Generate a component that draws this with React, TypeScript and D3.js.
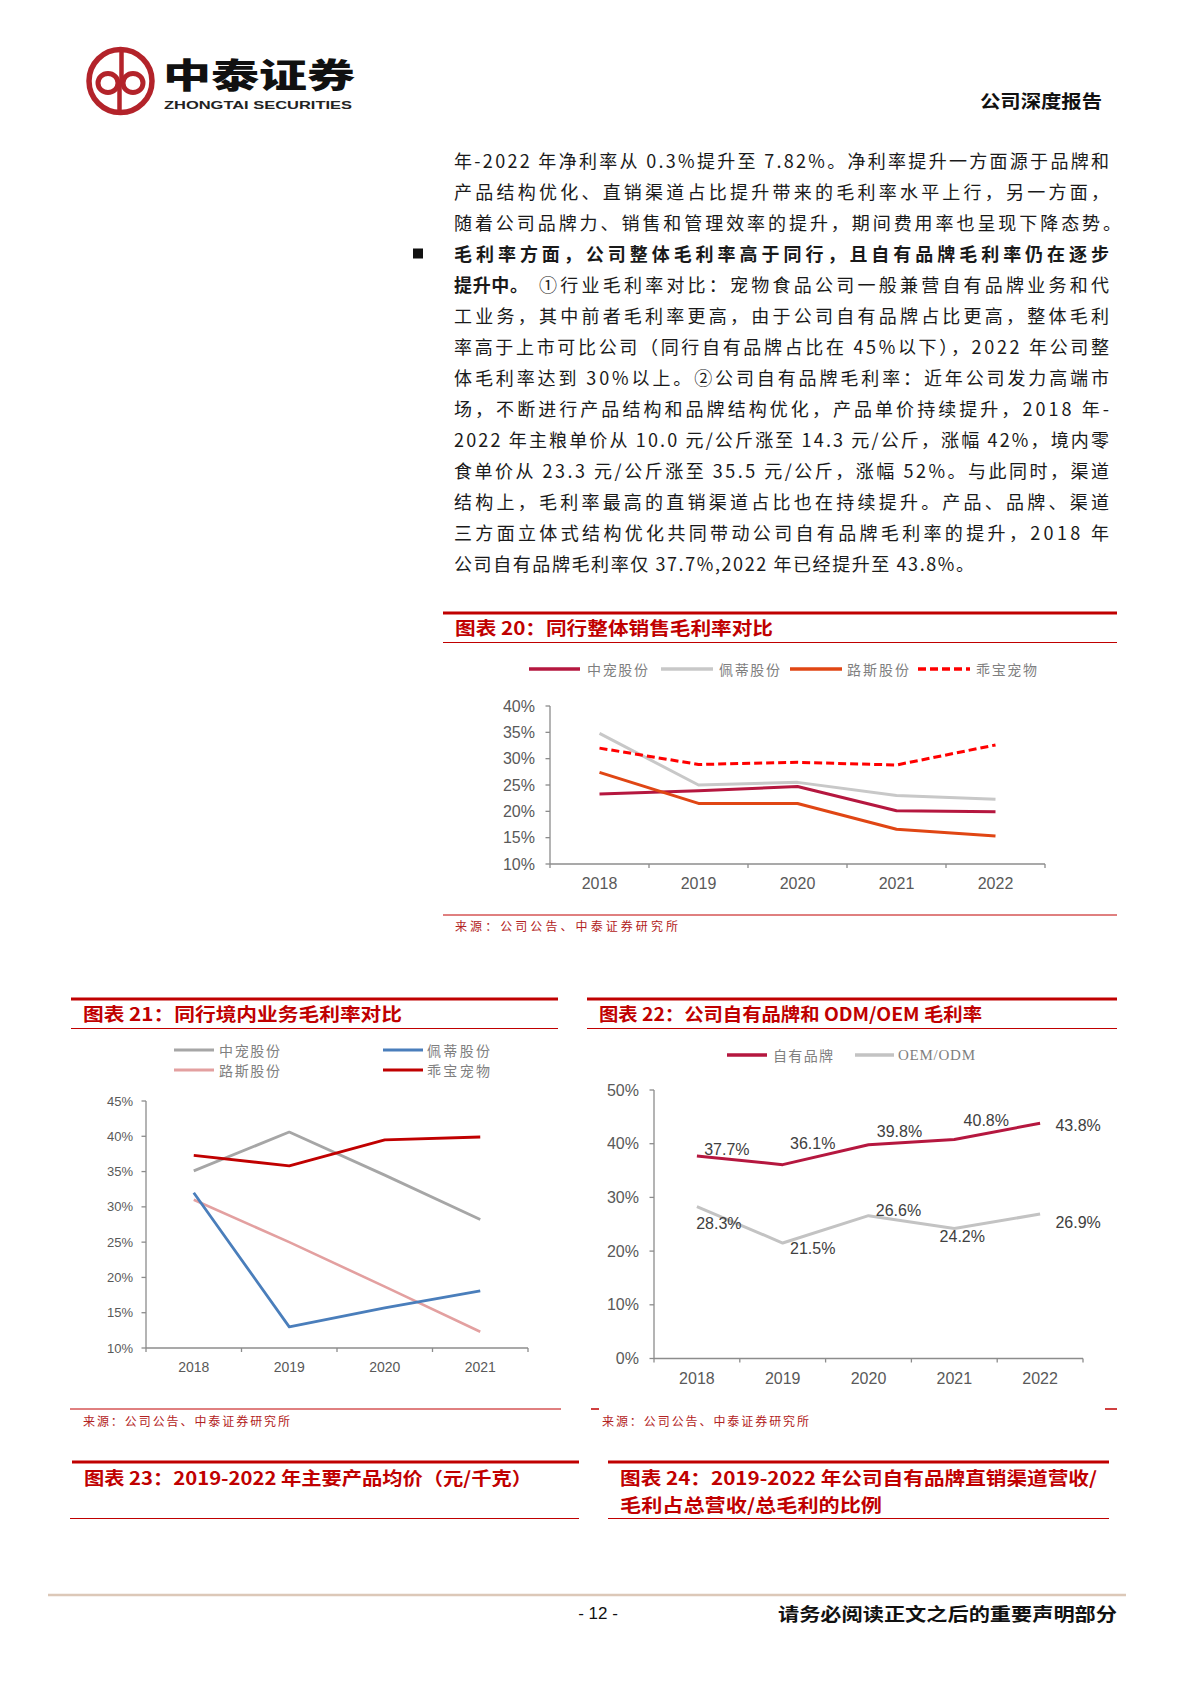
import React from 'react';
import * as d3 from 'd3';

// ---------- data ----------
const years5 = ['2018', '2019', '2020', '2021', '2022'];
const years4 = ['2018', '2019', '2020', '2021'];

// 图表20 同行整体销售毛利率 (%)
const c20Names = ['中宠股份', '佩蒂股份', '路斯股份', '乖宝宠物'];
const c20Zhongchong = [23.3, 23.9, 24.7, 20.1, 19.9];
const c20Peidi = [34.8, 25.0, 25.5, 23.0, 22.3];
const c20Lusi = [27.4, 21.5, 21.5, 16.6, 15.3];
const c20Guaibao = [32.0, 28.9, 29.3, 28.8, 32.6];
const c20Ticks = [10, 15, 20, 25, 30, 35, 40];

// 图表21 同行境内业务毛利率 (%)
const c21Names = ['中宠股份', '佩蒂股份', '路斯股份', '乖宝宠物'];
const c21Zhongchong = [35.1, 40.6, 34.5, 28.2];
const c21Peidi = [32.0, 13.0, 15.7, 18.1];
const c21Lusi = [31.0, 25.0, 18.7, 12.3];
const c21Guaibao = [37.3, 35.8, 39.5, 39.9];
const c21Ticks = [10, 15, 20, 25, 30, 35, 40, 45];

// 图表22 自有品牌 / OEM/ODM 毛利率 (%)
const c22Names = ['自有品牌', 'OEM/ODM'];
const c22Own = [37.7, 36.1, 39.8, 40.8, 43.8];
const c22Oem = [28.3, 21.5, 26.6, 24.2, 26.9];
const c22Ticks = [0, 10, 20, 30, 40, 50];

// layout nudges for chart-22 data labels (px)
const ownLabelDx = [30, 30, 31, 32, 38];
const ownLabelDy = [-7, -21, -13, -19, 2];
const oemLabelDx = [22, 30, 30, 8, 38];
const oemLabelDy = [17, 5, -5, 8, 8];

const bodyLines = [
  '年-2022 年净利率从 0.3%提升至 7.82%。净利率提升一方面源于品牌和',
  '产品结构优化、直销渠道占比提升带来的毛利率水平上行，另一方面，',
  '随着公司品牌力、销售和管理效率的提升，期间费用率也呈现下降态势。',
];
const bulletBold1 = '毛利率方面，公司整体毛利率高于同行，且自有品牌毛利率仍在逐步';
const bulletBold2 = '提升中。';
const bulletRest2 = '①行业毛利率对比：宠物食品公司一般兼营自有品牌业务和代';
const bulletLines = [
  '工业务，其中前者毛利率更高，由于公司自有品牌占比更高，整体毛利',
  '率高于上市可比公司（同行自有品牌占比在 45%以下），2022 年公司整',
  '体毛利率达到 30%以上。②公司自有品牌毛利率：近年公司发力高端市',
  '场，不断进行产品结构和品牌结构优化，产品单价持续提升，2018 年-',
  '2022 年主粮单价从 10.0 元/公斤涨至 14.3 元/公斤，涨幅 42%，境内零',
  '食单价从 23.3 元/公斤涨至 35.5 元/公斤，涨幅 52%。与此同时，渠道',
  '结构上，毛利率最高的直销渠道占比也在持续提升。产品、品牌、渠道',
  '三方面立体式结构优化共同带动公司自有品牌毛利率的提升，2018 年',
];
const bulletLast = '公司自有品牌毛利率仅 37.7%,2022 年已经提升至 43.8%。';

// ---------- styles ----------
const CJK = '"Noto Sans CJK SC", "Noto Sans", sans-serif';
const NUM = '"Liberation Sans", Arial, sans-serif';
const NARROW = '"Liberation Sans Narrow", "Liberation Sans", Arial, sans-serif';
const RED = '#C00000';
const AXIS = '#8C8C8C';
const TICKTXT = '#595959';

type Series = { values: number[]; color: string; width: number; dash?: string };

function LineChart(props: {
  cats: string[];
  ticks: number[];
  domain: [number, number];
  left: number;
  right: number;
  top: number;
  bottom: number;
  series: Series[];
  tickRight: number;
  tickFont: string;
  tickSize: number;
  xLabelY: number;
  xFont: string;
  xSize: number;
  children?: (x: (i: number) => number, y: (v: number) => number) => React.ReactNode;
}) {
  const { cats, ticks, domain, left, right, top, bottom, series } = props;
  const xb = d3.scaleBand<string>().domain(cats).range([left, right]).padding(0);
  const y = d3.scaleLinear().domain(domain).range([bottom, top]);
  const cx = (i: number) => (xb(cats[i]) as number) + xb.bandwidth() / 2;
  const line = d3
    .line<number>()
    .x((_, i) => cx(i))
    .y((v) => y(v));
  const bounds = [left, ...cats.map((c) => (xb(c) as number) + xb.bandwidth())];
  return (
    <g>
      <line x1={left} x2={left} y1={y(domain[1])} y2={bottom} stroke={AXIS} strokeWidth={1.3} />
      {ticks.map((t) => (
        <g key={t}>
          <line x1={left - 4.5} x2={left} y1={y(t)} y2={y(t)} stroke={AXIS} strokeWidth={1.3} />
          <text
            x={props.tickRight}
            y={y(t)}
            textAnchor="end"
            dominantBaseline="central"
            fontFamily={props.tickFont}
            fontSize={props.tickSize}
            fill={TICKTXT}
          >
            {t}%
          </text>
        </g>
      ))}
      <line x1={left} x2={right} y1={bottom} y2={bottom} stroke={AXIS} strokeWidth={1.3} />
      {bounds.map((b, i) => (
        <line key={i} x1={b} x2={b} y1={bottom} y2={bottom + 4} stroke={AXIS} strokeWidth={1.3} />
      ))}
      {cats.map((c, i) => (
        <text
          key={c}
          x={cx(i)}
          y={props.xLabelY}
          textAnchor="middle"
          dominantBaseline="central"
          fontFamily={props.xFont}
          fontSize={props.xSize}
          fill={TICKTXT}
        >
          {c}
        </text>
      ))}
      {series.map((s, i) => (
        <path
          key={i}
          d={line(s.values) || ''}
          fill="none"
          stroke={s.color}
          strokeWidth={s.width}
          strokeDasharray={s.dash}
          strokeLinejoin="round"
        />
      ))}
      {props.children ? props.children(cx, y) : null}
    </g>
  );
}

function LegendItem(p: {
  x1: number; x2: number; y: number; color: string; width: number; dash?: string;
  label: string; tx: number; tw: number; font?: string; size?: number;
}) {
  return (
    <g>
      <line x1={p.x1} x2={p.x2} y1={p.y} y2={p.y} stroke={p.color} strokeWidth={p.width} strokeDasharray={p.dash} />
      <text
        x={p.tx}
        y={p.y}
        dominantBaseline="central"
        fontFamily={p.font || CJK}
        fontSize={p.size || 14}
        fill="#7F7F7F"
        textLength={p.tw}
        lengthAdjust="spacing"
      >
        {p.label}
      </text>
    </g>
  );
}

function Header(p: { x1: number; x2: number; y: number; title: string; tx: number; tw: number; thinX1?: number }) {
  return (
    <g>
      <line x1={p.x1} x2={p.x2} y1={p.y} y2={p.y} stroke={RED} strokeWidth={3} />
      <text
        x={p.tx}
        y={p.y + 14}
        dominantBaseline="central"
        fontFamily={CJK}
        fontWeight={700}
        fontSize={18}
        fill={RED}
        textLength={p.tw}
        lengthAdjust="spacingAndGlyphs"
      >
        {p.title}
      </text>
      <line x1={p.thinX1 ?? p.x1} x2={p.x2} y1={p.y + 29.5} y2={p.y + 29.5} stroke={RED} strokeWidth={1} />
    </g>
  );
}

function Source(p: { x: number; y: number; w: number }) {
  return (
    <text
      x={p.x}
      y={p.y}
      dominantBaseline="central"
      fontFamily={CJK}
      fontSize={12}
      fill="#B22222"
      textLength={p.w}
      lengthAdjust="spacing"
    >
      来源：公司公告、中泰证券研究所
    </text>
  );
}

export default function App() {
  const bodyX = 454;
  const bodyW = 655;
  const lineY = (i: number) => 160 + i * 31;
  const c20Colors = ['#B5173F', '#C8C8C8', '#E04614', '#FF0000'];
  const c21Colors = ['#A6A6A6', '#4A7EBB', '#E3A0A0', '#C00000'];
  const c22Colors = ['#B5173F', '#C3C3C3'];

  return (
    <svg
      width={1190}
      height={1683}
      viewBox="0 0 1190 1683"
      style={{ position: 'absolute', left: 0, top: 0, background: '#fff' }}
    >
      <rect x={0} y={0} width={1190} height={1683} fill="#fff" />

      {/* ---------- page header ---------- */}
      <g>
        <circle cx={120.5} cy={81} r={31.5} fill="none" stroke="#B3232A" strokeWidth={5.5} />
        <ellipse cx={108} cy={83} rx={10} ry={9.5} fill="none" stroke="#B3232A" strokeWidth={5} />
        <ellipse cx={133} cy={83} rx={10} ry={9.5} fill="none" stroke="#B3232A" strokeWidth={5} />
        <line x1={121.5} x2={121.5} y1={50} y2={83} stroke="#B3232A" strokeWidth={4.5} />
        <line x1={119.5} x2={119.5} y1={83} y2={112} stroke="#B3232A" strokeWidth={4.5} />
        <text x={163} y={73} dominantBaseline="central" fontFamily={CJK} fontWeight={900} fontSize={34}
          fill="#111" textLength={192} lengthAdjust="spacingAndGlyphs">中泰证券</text>
        <text x={164} y={104.5} dominantBaseline="central" fontFamily={NUM} fontWeight={700} fontSize={11.5}
          fill="#222" textLength={188} lengthAdjust="spacingAndGlyphs">ZHONGTAI SECURITIES</text>
        <text x={980} y={100} dominantBaseline="central" fontFamily={CJK} fontWeight={700} fontSize={18}
          fill="#111" textLength={122} lengthAdjust="spacingAndGlyphs">公司深度报告</text>
      </g>

      {/* ---------- body text ---------- */}
      <g fontFamily={CJK} fontSize={18} fill="#1a1a1a">
        {bodyLines.map((t, i) => (
          <text key={i} x={bodyX} y={lineY(i)} dominantBaseline="central"
            textLength={i === 2 ? 667 : bodyW} lengthAdjust="spacing">{t}</text>
        ))}
        <rect x={413} y={248.5} width={10} height={10} fill="#111" />
        <text x={bodyX} y={lineY(3)} dominantBaseline="central" fontWeight={700}
          textLength={bodyW} lengthAdjust="spacing">{bulletBold1}</text>
        <text x={bodyX} y={lineY(4)} dominantBaseline="central" fontWeight={700}
          textLength={74} lengthAdjust="spacing">{bulletBold2}</text>
        <text x={539} y={lineY(4)} dominantBaseline="central"
          textLength={bodyX + bodyW - 539} lengthAdjust="spacing">{bulletRest2}</text>
        {bulletLines.map((t, i) => (
          <text key={i} x={bodyX} y={lineY(5 + i)} dominantBaseline="central"
            textLength={bodyW} lengthAdjust="spacing">{t}</text>
        ))}
        <text x={bodyX} y={lineY(13)} dominantBaseline="central"
          textLength={520} lengthAdjust="spacing">{bulletLast}</text>
      </g>

      {/* ---------- chart 20 ---------- */}
      <Header x1={443} x2={1117} y={613} tx={455} tw={318} title="图表 20：同行整体销售毛利率对比" />
      <LegendItem x1={529} x2={580} y={669} color={c20Colors[0]} width={3.5} label={c20Names[0]} tx={587} tw={61} />
      <LegendItem x1={661} x2={713} y={669} color={c20Colors[1]} width={3.5} label={c20Names[1]} tx={719} tw={61} />
      <LegendItem x1={790} x2={842} y={669} color={c20Colors[2]} width={3.5} label={c20Names[2]} tx={847} tw={62} />
      <LegendItem x1={918} x2={970} y={669} color={c20Colors[3]} width={3.5} dash="8,4" label={c20Names[3]} tx={976} tw={61} />
      <LineChart
        cats={years5}
        ticks={c20Ticks}
        domain={[10, 40]}
        left={550}
        right={1045}
        top={706}
        bottom={864}
        tickRight={535}
        tickFont={NUM}
        tickSize={16}
        xLabelY={883}
        xFont={NUM}
        xSize={16}
        series={[
          { values: c20Peidi, color: c20Colors[1], width: 3 },
          { values: c20Zhongchong, color: c20Colors[0], width: 3 },
          { values: c20Lusi, color: c20Colors[2], width: 3 },
          { values: c20Guaibao, color: c20Colors[3], width: 3, dash: '8,4' },
        ]}
      />
      <line x1={443} x2={1117} y1={915} y2={915} stroke={RED} strokeWidth={1} />
      <Source x={455} y={925} w={223} />

      {/* ---------- chart 21 ---------- */}
      <Header x1={71} x2={558} y={999} tx={83} tw={319} title="图表 21：同行境内业务毛利率对比" />
      <LegendItem x1={174} x2={214} y={1050} color={c21Colors[0]} width={3} label={c21Names[0]} tx={219} tw={61} />
      <LegendItem x1={383} x2={423} y={1050} color={c21Colors[1]} width={3} label={c21Names[1]} tx={427} tw={63} />
      <LegendItem x1={174} x2={214} y={1070} color={c21Colors[2]} width={3} label={c21Names[2]} tx={219} tw={61} />
      <LegendItem x1={383} x2={423} y={1070} color={c21Colors[3]} width={3} label={c21Names[3]} tx={427} tw={63} />
      <LineChart
        cats={years4}
        ticks={c21Ticks}
        domain={[10, 45]}
        left={146}
        right={528}
        top={1101}
        bottom={1348}
        tickRight={133}
        tickFont={NARROW}
        tickSize={13}
        xLabelY={1367}
        xFont={NARROW}
        xSize={14}
        series={[
          { values: c21Zhongchong, color: c21Colors[0], width: 2.8 },
          { values: c21Lusi, color: c21Colors[2], width: 2.6 },
          { values: c21Peidi, color: c21Colors[1], width: 2.8 },
          { values: c21Guaibao, color: c21Colors[3], width: 2.8 },
        ]}
      />
      <line x1={70} x2={561} y1={1409} y2={1409} stroke={RED} strokeWidth={1} />
      <Source x={83} y={1420} w={207} />

      {/* ---------- chart 22 ---------- */}
      <Header x1={587} x2={1117} y={999} tx={599} tw={383} title="图表 22：公司自有品牌和 ODM/OEM 毛利率" />
      <LegendItem x1={727} x2={767} y={1055} color={c22Colors[0]} width={3.5} label={c22Names[0]} tx={773} tw={60} />
      <LegendItem x1={855} x2={894} y={1055} color={c22Colors[1]} width={3.5} label={c22Names[1]} tx={898} tw={77}
        font={'"Liberation Serif", "Times New Roman", serif'} size={15} />
      <LineChart
        cats={years5}
        ticks={c22Ticks}
        domain={[0, 50]}
        left={654}
        right={1083}
        top={1090}
        bottom={1358.5}
        tickRight={639}
        tickFont={NUM}
        tickSize={16}
        xLabelY={1378}
        xFont={NUM}
        xSize={16}
        series={[
          { values: c22Oem, color: c22Colors[1], width: 3 },
          { values: c22Own, color: c22Colors[0], width: 3 },
        ]}
      >
        {(cx, y) => (
          <g fontFamily={NUM} fontSize={16} fill="#404040" textAnchor="middle">
            {c22Own.map((v, i) => (
              <text key={'o' + i} x={cx(i) + ownLabelDx[i]} y={y(v) + ownLabelDy[i]} dominantBaseline="central">
                {d3.format('.1f')(v)}%
              </text>
            ))}
            {c22Oem.map((v, i) => (
              <text key={'e' + i} x={cx(i) + oemLabelDx[i]} y={y(v) + oemLabelDy[i]} dominantBaseline="central">
                {d3.format('.1f')(v)}%
              </text>
            ))}
          </g>
        )}
      </LineChart>
      <line x1={591} x2={599} y1={1409} y2={1409} stroke={RED} strokeWidth={1.5} />
      <line x1={1105} x2={1117} y1={1409} y2={1409} stroke={RED} strokeWidth={1.5} />
      <Source x={602} y={1420} w={207} />

      {/* ---------- chart 23 / 24 headers ---------- */}
      <line x1={72} x2={579} y1={1462} y2={1462} stroke={RED} strokeWidth={3} />
      <text x={84} y={1477} dominantBaseline="central" fontFamily={CJK} fontWeight={700} fontSize={18}
        fill={RED} textLength={448} lengthAdjust="spacingAndGlyphs">图表 23：2019-2022 年主要产品均价（元/千克）</text>
      <line x1={70} x2={579} y1={1518.5} y2={1518.5} stroke={RED} strokeWidth={1.2} />

      <line x1={608} x2={1109} y1={1462} y2={1462} stroke={RED} strokeWidth={3} />
      <text x={620} y={1477} dominantBaseline="central" fontFamily={CJK} fontWeight={700} fontSize={18}
        fill={RED} textLength={477} lengthAdjust="spacingAndGlyphs">图表 24：2019-2022 年公司自有品牌直销渠道营收/</text>
      <text x={620} y={1504} dominantBaseline="central" fontFamily={CJK} fontWeight={700} fontSize={18}
        fill={RED} textLength={262} lengthAdjust="spacingAndGlyphs">毛利占总营收/总毛利的比例</text>
      <line x1={608} x2={1109} y1={1518.5} y2={1518.5} stroke={RED} strokeWidth={1.2} />

      {/* ---------- footer ---------- */}
      <line x1={48} x2={1126} y1={1595} y2={1595} stroke="#DCC8B8" strokeWidth={2.5} />
      <text x={598} y={1613} textAnchor="middle" dominantBaseline="central" fontFamily={NUM} fontSize={17} fill="#111">- 12 -</text>
      <text x={778} y={1613} dominantBaseline="central" fontFamily={CJK} fontWeight={700} fontSize={18}
        fill="#111" textLength={339} lengthAdjust="spacingAndGlyphs">请务必阅读正文之后的重要声明部分</text>
    </svg>
  );
}
